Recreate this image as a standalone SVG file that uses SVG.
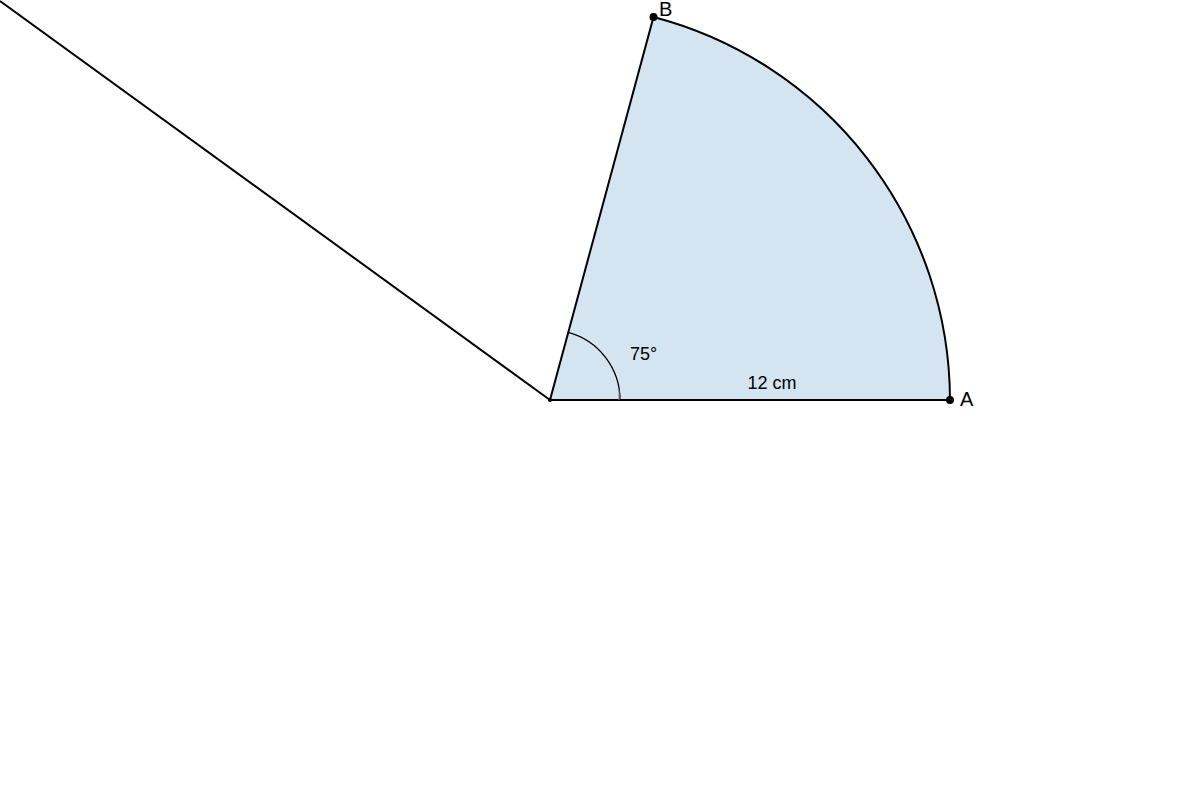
<svg xmlns="http://www.w3.org/2000/svg" width="1200" height="800" viewBox="0 0 1200 800">
<style>
.stroke{stroke:#000;stroke-width:2;fill:none}
.lbl{font-family:"Liberation Sans",Arial,sans-serif;font-size:18px;fill:#000}
.pl{font-family:"Liberation Sans",Arial,sans-serif;font-size:20px;fill:#000}
.pt{fill:#000}
</style>
<rect width="1200" height="800" fill="#fff"/>
<g id="sector">
<path d="M550,400 L653.5,17 A397,397 0 0,1 950,400 Z" fill="#d4e4f1" stroke="none"/>
<path d="M653.5,17 A397,397 0 0,1 950,400" class="stroke"/>
</g>
<g id="connectors">
<line x1="0" y1="1" x2="550" y2="400" stroke="#000" stroke-width="2"/>
<line x1="550" y1="400" x2="653.5" y2="17" stroke="#000" stroke-width="2"/>
<line x1="550" y1="400" x2="950" y2="400" stroke="#000" stroke-width="2"/>
<path d="M568.1,332.4 A70,70 0 0,1 620,400" fill="none" stroke="#000" stroke-width="1.3"/>
<line x1="619" y1="390" x2="619" y2="400" stroke="#888" stroke-width="1"/>
</g>
<g id="O"><circle cx="550" cy="400" r="2" class="pt"/></g>
<g id="B"><circle cx="653.5" cy="17" r="4" class="pt"/><text x="659" y="16" class="pl">B</text></g>
<g id="A"><circle cx="950" cy="400" r="4" class="pt"/><text x="960" y="406" class="pl">A</text></g>
<g id="angle"><text x="630" y="360" class="lbl">75°</text></g>
<g id="radius"><text x="772" y="389" class="lbl" text-anchor="middle">12 cm</text></g>
</svg>
